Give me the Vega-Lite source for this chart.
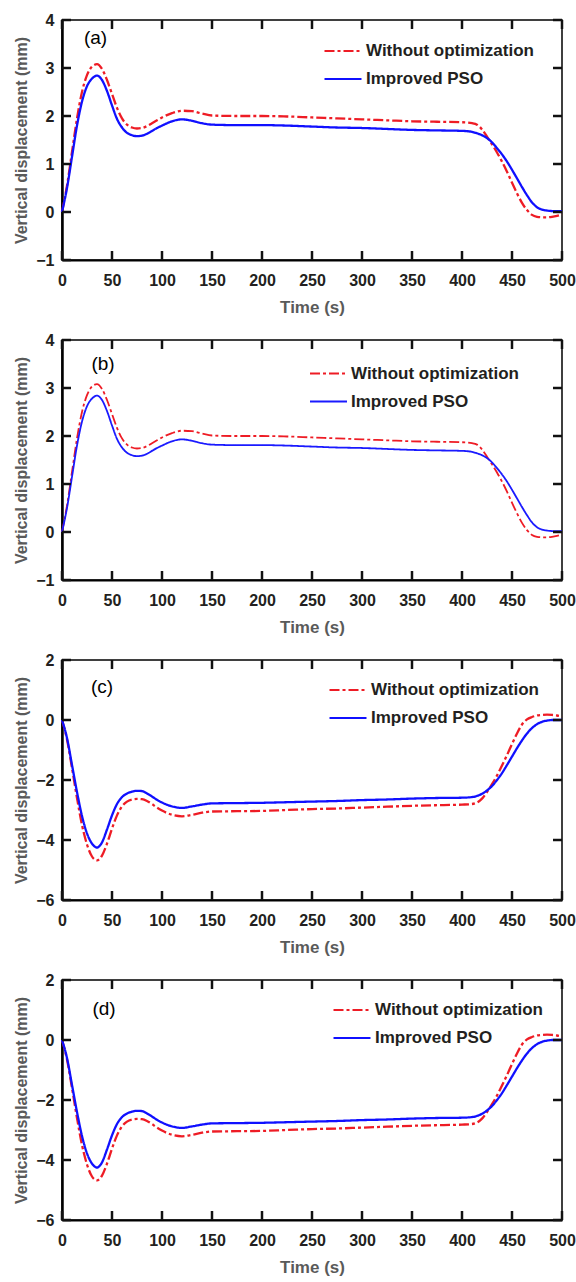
{
  "$schema": "https://vega.github.io/schema/vega-lite/v6.json",
  "padding": {"left": 13, "top": 11, "right": 5, "bottom": 2},
  "config": {
    "font": "Liberation Sans",
    "view": {"stroke": "black", "strokeWidth": 1.5},
    "axis": {
      "grid": false, "domainColor": "black", "domainWidth": 2, "ticks": false,
      "labelFont": "Liberation Sans", "labelFontWeight": "bold", "labelFontSize": 16, "labelColor": "#231f20",
      "labelFlush": false, "labelOverlap": false,
      "titleFont": "Liberation Sans", "titleFontWeight": "bold", "titleColor": "#5a5a5a"
    },
    "axisX": {"labelPadding": 12, "titlePadding": 11, "titleFontSize": 17},
    "axisY": {"labelPadding": 8, "titlePadding": 6, "titleFontSize": 16, "domainWidth": 2.5},
    "legend": {
      "orient": "none", "title": null, "padding": 0, "symbolType": "stroke", "symbolSize": 1369,
      "symbolStrokeWidth": 2.2, "labelFont": "Liberation Sans", "labelFontWeight": "bold", "labelFontSize": 17,
      "labelColor": "#231f20", "labelOffset": 3, "rowPadding": -6, "labelLimit": 0
    }
  },
  "datasets": {
    "xt": [{"t":0},{"t":50},{"t":100},{"t":150},{"t":200},{"t":250},{"t":300},{"t":350},{"t":400},{"t":450},{"t":500}],
    "yab": [{"v":-1},{"v":0},{"v":1},{"v":2},{"v":3},{"v":4}],
    "ycd": [{"v":-6},{"v":-4},{"v":-2},{"v":0},{"v":2}],
    "ab": [
      {"t":0,"w":0,"i":0},{"t":5,"w":0.55,"i":0.5},{"t":10,"w":1.25,"i":1.15},{"t":15,"w":1.95,"i":1.8},{"t":20,"w":2.5,"i":2.3},{"t":25,"w":2.85,"i":2.62},{"t":30,"w":3.03,"i":2.78},{"t":35,"w":3.08,"i":2.84},{"t":40,"w":2.98,"i":2.75},{"t":45,"w":2.75,"i":2.52},{"t":50,"w":2.46,"i":2.22},{"t":55,"w":2.17,"i":1.94},{"t":60,"w":1.95,"i":1.76},{"t":65,"w":1.82,"i":1.65},{"t":70,"w":1.76,"i":1.6},{"t":75,"w":1.74,"i":1.58},{"t":80,"w":1.75,"i":1.59},{"t":85,"w":1.79,"i":1.63},{"t":90,"w":1.85,"i":1.69},{"t":95,"w":1.91,"i":1.75},{"t":100,"w":1.97,"i":1.8},{"t":110,"w":2.06,"i":1.89},{"t":120,"w":2.11,"i":1.93},{"t":130,"w":2.1,"i":1.9},{"t":140,"w":2.05,"i":1.85},{"t":150,"w":2.01,"i":1.82},{"t":175,"w":2.0,"i":1.81},{"t":200,"w":2.0,"i":1.81},{"t":225,"w":1.99,"i":1.8},{"t":250,"w":1.97,"i":1.78},{"t":275,"w":1.95,"i":1.76},{"t":300,"w":1.93,"i":1.75},{"t":325,"w":1.91,"i":1.73},{"t":350,"w":1.89,"i":1.71},{"t":375,"w":1.88,"i":1.7},{"t":400,"w":1.87,"i":1.69},{"t":410,"w":1.85,"i":1.67},{"t":415,"w":1.82,"i":1.64},{"t":420,"w":1.72,"i":1.6},{"t":425,"w":1.57,"i":1.54},{"t":430,"w":1.41,"i":1.45},{"t":435,"w":1.24,"i":1.33},{"t":440,"w":1.05,"i":1.2},{"t":445,"w":0.84,"i":1.05},{"t":450,"w":0.61,"i":0.88},{"t":455,"w":0.39,"i":0.7},{"t":460,"w":0.19,"i":0.52},{"t":465,"w":0.04,"i":0.35},{"t":470,"w":-0.06,"i":0.2},{"t":475,"w":-0.1,"i":0.1},{"t":480,"w":-0.11,"i":0.05},{"t":485,"w":-0.11,"i":0.03},{"t":490,"w":-0.1,"i":0.02},{"t":495,"w":-0.08,"i":0.02},{"t":500,"w":-0.05,"i":0.02}
    ],
    "cd": [
      {"t":0,"w":0,"i":0},{"t":5,"w":-0.65,"i":-0.6},{"t":10,"w":-1.6,"i":-1.5},{"t":15,"w":-2.6,"i":-2.4},{"t":20,"w":-3.5,"i":-3.2},{"t":25,"w":-4.15,"i":-3.78},{"t":30,"w":-4.55,"i":-4.12},{"t":35,"w":-4.68,"i":-4.25},{"t":40,"w":-4.52,"i":-4.08},{"t":45,"w":-4.12,"i":-3.65},{"t":50,"w":-3.62,"i":-3.18},{"t":55,"w":-3.18,"i":-2.8},{"t":60,"w":-2.88,"i":-2.57},{"t":65,"w":-2.72,"i":-2.45},{"t":70,"w":-2.65,"i":-2.39},{"t":75,"w":-2.63,"i":-2.36},{"t":80,"w":-2.64,"i":-2.37},{"t":85,"w":-2.7,"i":-2.45},{"t":90,"w":-2.8,"i":-2.55},{"t":95,"w":-2.92,"i":-2.66},{"t":100,"w":-3.02,"i":-2.75},{"t":110,"w":-3.16,"i":-2.88},{"t":120,"w":-3.21,"i":-2.93},{"t":130,"w":-3.16,"i":-2.88},{"t":140,"w":-3.09,"i":-2.82},{"t":150,"w":-3.05,"i":-2.78},{"t":175,"w":-3.04,"i":-2.77},{"t":200,"w":-3.03,"i":-2.76},{"t":225,"w":-3.0,"i":-2.74},{"t":250,"w":-2.97,"i":-2.72},{"t":275,"w":-2.95,"i":-2.7},{"t":300,"w":-2.92,"i":-2.67},{"t":325,"w":-2.89,"i":-2.65},{"t":350,"w":-2.86,"i":-2.62},{"t":375,"w":-2.84,"i":-2.6},{"t":400,"w":-2.82,"i":-2.59},{"t":410,"w":-2.8,"i":-2.57},{"t":415,"w":-2.75,"i":-2.53},{"t":420,"w":-2.62,"i":-2.46},{"t":425,"w":-2.4,"i":-2.35},{"t":430,"w":-2.14,"i":-2.2},{"t":435,"w":-1.85,"i":-2.0},{"t":440,"w":-1.52,"i":-1.77},{"t":445,"w":-1.17,"i":-1.5},{"t":450,"w":-0.8,"i":-1.22},{"t":455,"w":-0.45,"i":-0.94},{"t":460,"w":-0.15,"i":-0.68},{"t":465,"w":0.02,"i":-0.45},{"t":470,"w":0.1,"i":-0.27},{"t":475,"w":0.15,"i":-0.14},{"t":480,"w":0.17,"i":-0.06},{"t":485,"w":0.18,"i":-0.02},{"t":490,"w":0.17,"i":0},{"t":495,"w":0.15,"i":0},{"t":500,"w":0.12,"i":0}
    ]
  },
  "bounds": "flush",
  "spacing": 80,
  "resolve": {"scale": {"color": "independent", "strokeDash": "independent"}},
  "vconcat": [
    {
      "width": 500, "height": 240,
      "layer": [
        {
          "data": {"name": "ab"},
          "transform": [{"fold": ["w", "i"], "as": ["s", "v"]}],
          "mark": {"type": "line", "interpolate": "monotone", "strokeWidth": 2.3},
          "encoding": {
            "x": {"field": "t", "type": "quantitative", "scale": {"domain": [0, 500], "nice": false}, "axis": {"values": [0,50,100,150,200,250,300,350,400,450,500], "title": "Time (s)"}},
            "y": {"field": "v", "type": "quantitative", "scale": {"domain": [-1, 4], "nice": false}, "axis": {"values": [-1,0,1,2,3,4], "title": "Vertical displacement (mm)"}},
            "color": {"field": "s", "type": "nominal", "scale": {"domain": ["w", "i"], "range": ["#ee1c25", "#1010ff"]}, "legend": {"legendX": 261, "legendY": 11, "labelExpr": "datum.label == 'w' ? 'Without optimization' : 'Improved PSO'"}},
            "strokeDash": {"field": "s", "type": "nominal", "scale": {"domain": ["w", "i"], "range": [[10, 3, 3, 3], [1, 0]]}, "legend": {"legendX": 261, "legendY": 11, "labelExpr": "datum.label == 'w' ? 'Without optimization' : 'Improved PSO'"}}
          }
        },
        {
          "data": {"values": [{"t": 33.5, "v": 3.63, "lab": "(a)"}]},
          "mark": {"type": "text", "font": "Liberation Sans", "fontSize": 19, "color": "black"},
          "encoding": {"x": {"field": "t", "type": "quantitative"}, "y": {"field": "v", "type": "quantitative"}, "text": {"field": "lab"}}
        },
        {"data": {"name": "xt"}, "mark": {"type": "tick", "orient": "vertical", "color": "#111111", "thickness": 2.5, "size": 9, "opacity": 1, "yOffset": -4.5}, "encoding": {"x": {"field": "t", "type": "quantitative"}, "y": {"datum": -1, "type": "quantitative"}}},
        {"data": {"name": "xt"}, "mark": {"type": "tick", "orient": "vertical", "color": "#111111", "thickness": 2.5, "size": 9, "opacity": 1, "yOffset": 4.5}, "encoding": {"x": {"field": "t", "type": "quantitative"}, "y": {"datum": 4, "type": "quantitative"}}},
        {"data": {"name": "yab"}, "mark": {"type": "tick", "orient": "horizontal", "color": "#111111", "thickness": 2.5, "size": 9, "opacity": 1, "xOffset": 4.5}, "encoding": {"y": {"field": "v", "type": "quantitative"}, "x": {"datum": 0, "type": "quantitative"}}},
        {"data": {"name": "yab"}, "mark": {"type": "tick", "orient": "horizontal", "color": "#111111", "thickness": 2.5, "size": 9, "opacity": 1, "xOffset": -4.5}, "encoding": {"y": {"field": "v", "type": "quantitative"}, "x": {"datum": 500, "type": "quantitative"}}}
      ]
    },
    {
      "width": 500, "height": 240,
      "layer": [
        {
          "data": {"name": "ab"},
          "transform": [{"fold": ["w", "i"], "as": ["s", "v"]}],
          "mark": {"type": "line", "interpolate": "monotone", "strokeWidth": 1.8},
          "encoding": {
            "x": {"field": "t", "type": "quantitative", "scale": {"domain": [0, 500], "nice": false}, "axis": {"values": [0,50,100,150,200,250,300,350,400,450,500], "title": "Time (s)"}},
            "y": {"field": "v", "type": "quantitative", "scale": {"domain": [-1, 4], "nice": false}, "axis": {"values": [-1,0,1,2,3,4], "title": "Vertical displacement (mm)"}},
            "color": {"field": "s", "type": "nominal", "scale": {"domain": ["w", "i"], "range": ["#ee1c25", "#1a1aff"]}, "legend": {"legendX": 247, "legendY": 14, "symbolStrokeWidth": 1.8, "labelExpr": "datum.label == 'w' ? 'Without optimization' : 'Improved PSO'"}},
            "strokeDash": {"field": "s", "type": "nominal", "scale": {"domain": ["w", "i"], "range": [[10, 3, 3, 3], [1, 0]]}, "legend": {"legendX": 247, "legendY": 14, "symbolStrokeWidth": 1.8, "labelExpr": "datum.label == 'w' ? 'Without optimization' : 'Improved PSO'"}}
          }
        },
        {
          "data": {"values": [{"t": 41, "v": 3.51, "lab": "(b)"}]},
          "mark": {"type": "text", "font": "Liberation Sans", "fontSize": 19, "color": "black"},
          "encoding": {"x": {"field": "t", "type": "quantitative"}, "y": {"field": "v", "type": "quantitative"}, "text": {"field": "lab"}}
        },
        {"data": {"name": "xt"}, "mark": {"type": "tick", "orient": "vertical", "color": "#111111", "thickness": 2.5, "size": 9, "opacity": 1, "yOffset": -4.5}, "encoding": {"x": {"field": "t", "type": "quantitative"}, "y": {"datum": -1, "type": "quantitative"}}},
        {"data": {"name": "xt"}, "mark": {"type": "tick", "orient": "vertical", "color": "#111111", "thickness": 2.5, "size": 9, "opacity": 1, "yOffset": 4.5}, "encoding": {"x": {"field": "t", "type": "quantitative"}, "y": {"datum": 4, "type": "quantitative"}}},
        {"data": {"name": "yab"}, "mark": {"type": "tick", "orient": "horizontal", "color": "#111111", "thickness": 2.5, "size": 9, "opacity": 1, "xOffset": 4.5}, "encoding": {"y": {"field": "v", "type": "quantitative"}, "x": {"datum": 0, "type": "quantitative"}}},
        {"data": {"name": "yab"}, "mark": {"type": "tick", "orient": "horizontal", "color": "#111111", "thickness": 2.5, "size": 9, "opacity": 1, "xOffset": -4.5}, "encoding": {"y": {"field": "v", "type": "quantitative"}, "x": {"datum": 500, "type": "quantitative"}}}
      ]
    },
    {
      "width": 500, "height": 240,
      "layer": [
        {
          "data": {"name": "cd"},
          "transform": [{"fold": ["w", "i"], "as": ["s", "v"]}],
          "mark": {"type": "line", "interpolate": "monotone", "strokeWidth": 2.3},
          "encoding": {
            "x": {"field": "t", "type": "quantitative", "scale": {"domain": [0, 500], "nice": false}, "axis": {"values": [0,50,100,150,200,250,300,350,400,450,500], "title": "Time (s)"}},
            "y": {"field": "v", "type": "quantitative", "scale": {"domain": [-6, 2], "nice": false}, "axis": {"values": [-6,-4,-2,0,2], "title": "Vertical displacement (mm)"}},
            "color": {"field": "s", "type": "nominal", "scale": {"domain": ["w", "i"], "range": ["#ee1c25", "#1010ff"]}, "legend": {"legendX": 266, "legendY": 10, "labelExpr": "datum.label == 'w' ? 'Without optimization' : 'Improved PSO'"}},
            "strokeDash": {"field": "s", "type": "nominal", "scale": {"domain": ["w", "i"], "range": [[10, 3, 3, 3], [1, 0]]}, "legend": {"legendX": 266, "legendY": 10, "labelExpr": "datum.label == 'w' ? 'Without optimization' : 'Improved PSO'"}}
          }
        },
        {
          "data": {"values": [{"t": 40, "v": 1.11, "lab": "(c)"}]},
          "mark": {"type": "text", "font": "Liberation Sans", "fontSize": 19, "color": "black"},
          "encoding": {"x": {"field": "t", "type": "quantitative"}, "y": {"field": "v", "type": "quantitative"}, "text": {"field": "lab"}}
        },
        {"data": {"name": "xt"}, "mark": {"type": "tick", "orient": "vertical", "color": "#111111", "thickness": 2.5, "size": 9, "opacity": 1, "yOffset": -4.5}, "encoding": {"x": {"field": "t", "type": "quantitative"}, "y": {"datum": -6, "type": "quantitative"}}},
        {"data": {"name": "xt"}, "mark": {"type": "tick", "orient": "vertical", "color": "#111111", "thickness": 2.5, "size": 9, "opacity": 1, "yOffset": 4.5}, "encoding": {"x": {"field": "t", "type": "quantitative"}, "y": {"datum": 2, "type": "quantitative"}}},
        {"data": {"name": "ycd"}, "mark": {"type": "tick", "orient": "horizontal", "color": "#111111", "thickness": 2.5, "size": 9, "opacity": 1, "xOffset": 4.5}, "encoding": {"y": {"field": "v", "type": "quantitative"}, "x": {"datum": 0, "type": "quantitative"}}},
        {"data": {"name": "ycd"}, "mark": {"type": "tick", "orient": "horizontal", "color": "#111111", "thickness": 2.5, "size": 9, "opacity": 1, "xOffset": -4.5}, "encoding": {"y": {"field": "v", "type": "quantitative"}, "x": {"datum": 500, "type": "quantitative"}}}
      ]
    },
    {
      "width": 500, "height": 240,
      "layer": [
        {
          "data": {"name": "cd"},
          "transform": [{"fold": ["w", "i"], "as": ["s", "v"]}],
          "mark": {"type": "line", "interpolate": "monotone", "strokeWidth": 2.3},
          "encoding": {
            "x": {"field": "t", "type": "quantitative", "scale": {"domain": [0, 500], "nice": false}, "axis": {"values": [0,50,100,150,200,250,300,350,400,450,500], "title": "Time (s)"}},
            "y": {"field": "v", "type": "quantitative", "scale": {"domain": [-6, 2], "nice": false}, "axis": {"values": [-6,-4,-2,0,2], "title": "Vertical displacement (mm)"}},
            "color": {"field": "s", "type": "nominal", "scale": {"domain": ["w", "i"], "range": ["#ee1c25", "#1010ff"]}, "legend": {"legendX": 270, "legendY": 10, "labelExpr": "datum.label == 'w' ? 'Without optimization' : 'Improved PSO'"}},
            "strokeDash": {"field": "s", "type": "nominal", "scale": {"domain": ["w", "i"], "range": [[10, 3, 3, 3], [1, 0]]}, "legend": {"legendX": 270, "legendY": 10, "labelExpr": "datum.label == 'w' ? 'Without optimization' : 'Improved PSO'"}}
          }
        },
        {
          "data": {"values": [{"t": 42, "v": 1.03, "lab": "(d)"}]},
          "mark": {"type": "text", "font": "Liberation Sans", "fontSize": 19, "color": "black"},
          "encoding": {"x": {"field": "t", "type": "quantitative"}, "y": {"field": "v", "type": "quantitative"}, "text": {"field": "lab"}}
        },
        {"data": {"name": "xt"}, "mark": {"type": "tick", "orient": "vertical", "color": "#111111", "thickness": 2.5, "size": 9, "opacity": 1, "yOffset": -4.5}, "encoding": {"x": {"field": "t", "type": "quantitative"}, "y": {"datum": -6, "type": "quantitative"}}},
        {"data": {"name": "xt"}, "mark": {"type": "tick", "orient": "vertical", "color": "#111111", "thickness": 2.5, "size": 9, "opacity": 1, "yOffset": 4.5}, "encoding": {"x": {"field": "t", "type": "quantitative"}, "y": {"datum": 2, "type": "quantitative"}}},
        {"data": {"name": "ycd"}, "mark": {"type": "tick", "orient": "horizontal", "color": "#111111", "thickness": 2.5, "size": 9, "opacity": 1, "xOffset": 4.5}, "encoding": {"y": {"field": "v", "type": "quantitative"}, "x": {"datum": 0, "type": "quantitative"}}},
        {"data": {"name": "ycd"}, "mark": {"type": "tick", "orient": "horizontal", "color": "#111111", "thickness": 2.5, "size": 9, "opacity": 1, "xOffset": -4.5}, "encoding": {"y": {"field": "v", "type": "quantitative"}, "x": {"datum": 500, "type": "quantitative"}}}
      ]
    }
  ]
}
